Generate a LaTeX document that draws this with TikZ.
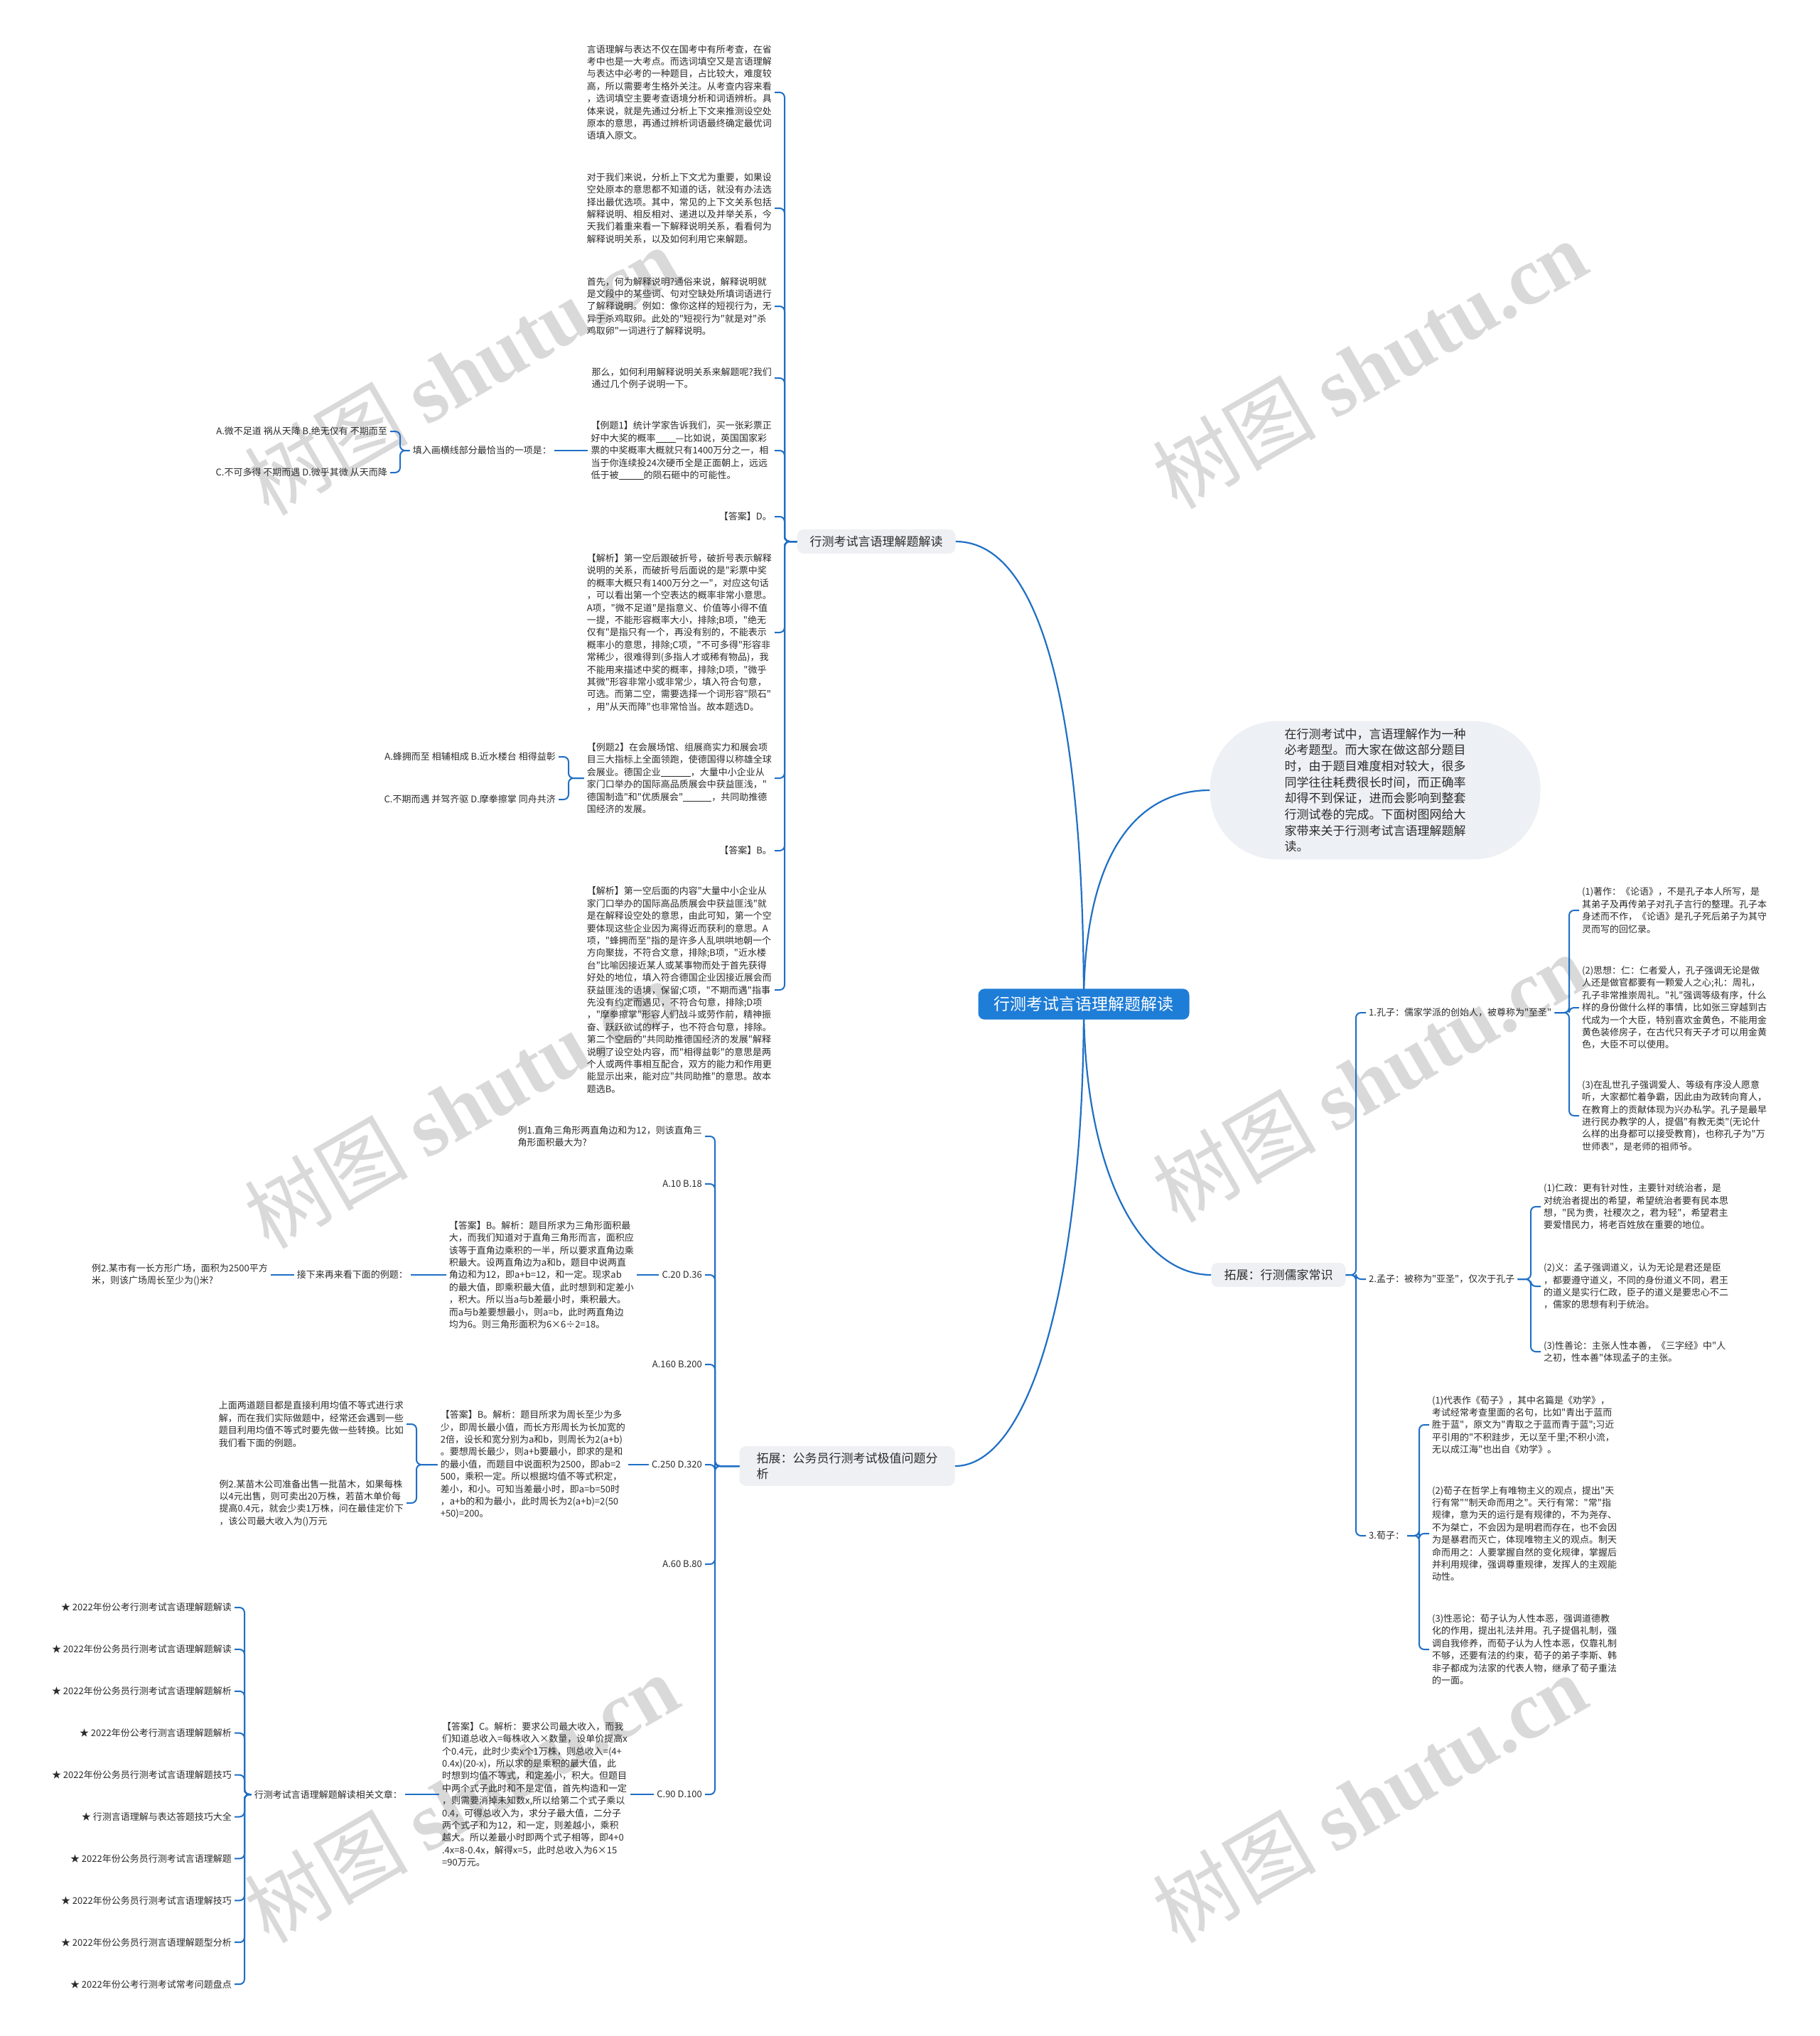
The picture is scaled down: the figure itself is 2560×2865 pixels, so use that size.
\documentclass[tikz,border=0pt]{standalone}
\usepackage{fontspec}
\setmainfont{Noto Sans CJK SC}[Ligatures=TeXOff]
\newfontfamily\wmlatin{Liberation Serif}
\usetikzlibrary{backgrounds}
\definecolor{linkblue}{HTML}{1F6FC5}
\definecolor{rootblue}{HTML}{1E7DD7}
\definecolor{topicgray}{HTML}{EEF0F3}
\definecolor{introgray}{HTML}{EDF0F4}
\definecolor{inkgray}{HTML}{2B2B2B}
\definecolor{markgray}{HTML}{D9D9D9}
\newcommand{\fillgap}[1]{\rule[-1.5pt]{#1}{0.7pt}}

\begin{document}
\begin{tikzpicture}[x=1pt, y=-1pt,
  root/.style={fill=rootblue, text=white, rounded corners=9pt, inner xsep=22pt, inner ysep=11pt, font=\fontsize{23}{28}\selectfont},
  topic/.style={fill=topicgray, text=inkgray, rounded corners=9pt, inner xsep=18pt, inner ysep=9pt, align=left, font=\fontsize{17}{22}\selectfont},
  intro/.style={fill=introgray, text=inkgray, rounded corners=95pt, inner xsep=105pt, inner ysep=10pt, align=left, font=\fontsize{17}{22.7}\selectfont},
  txt/.style={text=inkgray, inner sep=4pt, align=left, font=\fontsize{13}{17.4}\selectfont},
  conn/.style={draw=linkblue, line width=2pt, rounded corners=7pt},
  branch/.style={draw=linkblue, line width=2.2pt},
  wmark/.style={text=markgray, rotate=30, font=\fontsize{115}{115}\selectfont}
]
\useasboundingbox (0,0) rectangle (2560,2865);

\node[root] (root) at (1525,1413) {行测考试言语理解题解读};
\node[topic] (yanyu) at (1233,762) {行测考试言语理解题解读};
\node[intro] (intro) at (1935,1112) {在行测考试中，言语理解作为一种\\必考题型。而大家在做这部分题目\\时，由于题目难度相对较大，很多\\同学往往耗费很长时间，而正确率\\却得不到保证，进而会影响到整套\\行测试卷的完成。下面树图网给大\\家带来关于行测考试言语理解题解\\读。};
\node[topic] (rujia) at (1799,1794) {拓展：行测儒家常识};
\node[topic, inner xsep=24pt] (jizhi) at (1192,2063) {拓展：公务员行测考试极值问题分\\析};

\node[txt, anchor=east] (duan1) at (1090,130) {言语理解与表达不仅在国考中有所考查，在省\\考中也是一大考点。而选词填空又是言语理解\\与表达中必考的一种题目，占比较大，难度较\\高，所以需要考生格外关注。从考查内容来看\\，选词填空主要考查语境分析和词语辨析。具\\体来说，就是先通过分析上下文来推测设空处\\原本的意思，再通过辨析词语最终确定最优词\\语填入原文。};
\node[txt, anchor=east] (duan2) at (1090,293) {对于我们来说，分析上下文尤为重要，如果设\\空处原本的意思都不知道的话，就没有办法选\\择出最优选项。其中，常见的上下文关系包括\\解释说明、相反相对、递进以及并举关系，今\\天我们着重来看一下解释说明关系，看看何为\\解释说明关系，以及如何利用它来解题。};
\node[txt, anchor=east] (duan3) at (1090,431) {首先，何为解释说明?通俗来说，解释说明就\\是文段中的某些词、句对空缺处所填词语进行\\了解释说明。例如：像你这样的短视行为，无\\异于杀鸡取卵。此处的"短视行为"就是对"杀\\鸡取卵"一词进行了解释说明。};
\node[txt, anchor=east] (duan4) at (1090,532) {那么，如何利用解释说明关系来解题呢?我们\\通过几个例子说明一下。};
\node[txt, anchor=east] (li1) at (1090,634) {【例题1】统计学家告诉我们，买一张彩票正\\好中大奖的概率\fillgap{28pt}—比如说，英国国家彩\\票的中奖概率大概就只有1400万分之一，相\\当于你连续投24次硬币全是正面朝上，远远\\低于被\fillgap{35pt}的陨石砸中的可能性。};
\node[txt, anchor=east] (da1) at (1090,727) {【答案】D。};
\node[txt, anchor=east] (xi1) at (1090,890) {【解析】第一空后跟破折号，破折号表示解释\\说明的关系，而破折号后面说的是"彩票中奖\\的概率大概只有1400万分之一"，对应这句话\\，可以看出第一个空表达的概率非常小意思。\\A项，"微不足道"是指意义、价值等小得不值\\一提，不能形容概率大小，排除;B项，"绝无\\仅有"是指只有一个，再没有别的，不能表示\\概率小的意思，排除;C项，"不可多得"形容非\\常稀少，很难得到(多指人才或稀有物品)，我\\不能用来描述中奖的概率，排除;D项，"微乎\\其微"形容非常小或非常少，填入符合句意，\\可选。而第二空，需要选择一个词形容"陨石"\\，用"从天而降"也非常恰当。故本题选D。};
\node[txt, anchor=east] (li2) at (1090,1095) {【例题2】在会展场馆、组展商实力和展会项\\目三大指标上全面领跑，使德国得以称雄全球\\会展业。德国企业\fillgap{42pt}，大量中小企业从\\家门口举办的国际高品质展会中获益匪浅，"\\德国制造"和"优质展会"\fillgap{40pt}，共同助推德\\国经济的发展。};
\node[txt, anchor=east] (da2) at (1090,1197) {【答案】B。};
\node[txt, anchor=east] (xi2) at (1090,1393) {【解析】第一空后面的内容"大量中小企业从\\家门口举办的国际高品质展会中获益匪浅"就\\是在解释设空处的意思，由此可知，第一个空\\要体现这些企业因为离得近而获利的意思。A\\项，"蜂拥而至"指的是许多人乱哄哄地朝一个\\方向聚拢，不符合文意，排除;B项，"近水楼\\台"比喻因接近某人或某事物而处于首先获得\\好处的地位，填入符合德国企业因接近展会而\\获益匪浅的语境，保留;C项，"不期而遇"指事\\先没有约定而遇见，不符合句意，排除;D项\\，"摩拳擦掌"形容人们战斗或劳作前，精神振\\奋、跃跃欲试的样子，也不符合句意，排除。\\第二个空后的"共同助推德国经济的发展"解释\\说明了设空处内容，而"相得益彰"的意思是两\\个人或两件事相互配合，双方的能力和作用更\\能显示出来，能对应"共同助推"的意思。故本\\题选B。};
\node[txt, anchor=east] (tian) at (780,634) {填入画横线部分最恰当的一项是：};
\node[txt, anchor=east] (xuan1a) at (549,607) {A.微不足道 祸从天降 B.绝无仅有 不期而至};
\node[txt, anchor=east] (xuan1c) at (549,665) {C.不可多得 不期而遇 D.微乎其微 从天而降};
\node[txt, anchor=east] (xuan2a) at (786,1065) {A.蜂拥而至 相辅相成 B.近水楼台 相得益彰};
\node[txt, anchor=east] (xuan2c) at (786,1125) {C.不期而遇 并驾齐驱 D.摩拳擦掌 同舟共济};

\node[txt, anchor=west] (kong) at (1922,1425) {1.孔子：儒家学派的创始人，被尊称为"至圣"};
\node[txt, anchor=west] (meng) at (1922,1800) {2.孟子：被称为"亚圣"，仅次于孔子};
\node[txt, anchor=west] (xun) at (1922,2161) {3.荀子：};
\node[txt, anchor=west] (kong1) at (2222,1281) {(1)著作：《论语》，不是孔子本人所写，是\\其弟子及再传弟子对孔子言行的整理。孔子本\\身述而不作，《论语》是孔子死后弟子为其守\\灵而写的回忆录。};
\node[txt, anchor=west] (kong2) at (2222,1418) {(2)思想：仁：仁者爱人，孔子强调无论是做\\人还是做官都要有一颗爱人之心;礼：周礼，\\孔子非常推崇周礼。"礼"强调等级有序，什么\\样的身份做什么样的事情，比如张三穿越到古\\代成为一个大臣，特别喜欢金黄色，不能用金\\黄色装修房子，在古代只有天子才可以用金黄\\色，大臣不可以使用。};
\node[txt, anchor=west] (kong3) at (2222,1570) {(3)在乱世孔子强调爱人、等级有序没人愿意\\听，大家都忙着争霸，因此由为政转向育人，\\在教育上的贡献体现为兴办私学。孔子是最早\\进行民办教学的人，提倡"有教无类"(无论什\\么样的出身都可以接受教育)，也称孔子为"万\\世师表"，是老师的祖师爷。};
\node[txt, anchor=west] (meng1) at (2168,1698) {(1)仁政：更有针对性，主要针对统治者，是\\对统治者提出的希望，希望统治者要有民本思\\想，"民为贵，社稷次之，君为轻"，希望君主\\要爱惜民力，将老百姓放在重要的地位。};
\node[txt, anchor=west] (meng2) at (2168,1810) {(2)义：孟子强调道义，认为无论是君还是臣\\，都要遵守道义，不同的身份道义不同，君王\\的道义是实行仁政，臣子的道义是要忠心不二\\，儒家的思想有利于统治。};
\node[txt, anchor=west] (meng3) at (2168,1902) {(3)性善论：主张人性本善，《三字经》中"人\\之初，性本善"体现孟子的主张。};
\node[txt, anchor=west] (xun1) at (2011,2005) {(1)代表作《荀子》，其中名篇是《劝学》，\\考试经常考查里面的名句，比如"青出于蓝而\\胜于蓝"，原文为"青取之于蓝而青于蓝";习近\\平引用的"不积跬步，无以至千里;不积小流，\\无以成江海"也出自《劝学》。};
\node[txt, anchor=west] (xun2) at (2011,2158) {(2)荀子在哲学上有唯物主义的观点，提出"天\\行有常""制天命而用之"。天行有常："常"指\\规律，意为天的运行是有规律的，不为尧存、\\不为桀亡，不会因为是明君而存在，也不会因\\为是暴君而灭亡，体现唯物主义的观点。制天\\命而用之：人要掌握自然的变化规律，掌握后\\并利用规律，强调尊重规律，发挥人的主观能\\动性。};
\node[txt, anchor=west] (xun3) at (2011,2321) {(3)性恶论：荀子认为人性本恶，强调道德教\\化的作用，提出礼法并用。孔子提倡礼制，强\\调自我修养，而荀子认为人性本恶，仅靠礼制\\不够，还要有法的约束，荀子的弟子李斯、韩\\非子都成为法家的代表人物，继承了荀子重法\\的一面。};

\node[txt, anchor=east] (ti1) at (992,1599) {例1.直角三角形两直角边和为12，则该直角三\\角形面积最大为?};
\node[txt, anchor=east] (opt1) at (992,1666) {A.10 B.18};
\node[txt, anchor=east] (opt2) at (992,1794) {C.20 D.36};
\node[txt, anchor=east] (opt3) at (992,1920) {A.160 B.200};
\node[txt, anchor=east] (opt4) at (992,2061) {C.250 D.320};
\node[txt, anchor=east] (opt5) at (992,2201) {A.60 B.80};
\node[txt, anchor=east] (opt6) at (992,2525) {C.90 D.100};
\node[txt, anchor=east] (jie1) at (896,1794) {【答案】B。解析：题目所求为三角形面积最\\大，而我们知道对于直角三角形而言，面积应\\该等于直角边乘积的一半，所以要求直角边乘\\积最大。设两直角边为a和b，题目中说两直\\角边和为12，即a+b=12，和一定。现求ab\\的最大值，即乘积最大值，此时想到和定差小\\，积大。所以当a与b差最小时，乘积最大。\\而a与b差要想最小，则a=b，此时两直角边\\均为6。则三角形面积为6×6÷2=18。};
\node[txt, anchor=east] (jiexia) at (578,1794) {接下来再来看下面的例题：};
\node[txt, anchor=east] (ti2) at (381,1794) {例2.某市有一长方形广场，面积为2500平方\\米，则该广场周长至少为()米?};
\node[txt, anchor=east] (jie2) at (884,2061) {【答案】B。解析：题目所求为周长至少为多\\少，即周长最小值，而长方形周长为长加宽的\\2倍，设长和宽分别为a和b，则周长为2(a+b)\\。要想周长最少，则a+b要最小，即求的是和\\的最小值，而题目中说面积为2500，即ab=2\\500，乘积一定。所以根据均值不等式积定，\\差小，和小。可知当差最小时，即a=b=50时\\，a+b的和为最小，此时周长为2(a+b)=2(50\\+50)=200。};
\node[txt, anchor=east] (shang) at (572,2004) {上面两道题目都是直接利用均值不等式进行求\\解，而在我们实际做题中，经常还会遇到一些\\题目利用均值不等式时要先做一些转换。比如\\我们看下面的例题。};
\node[txt, anchor=east] (ti3) at (572,2115) {例2.某苗木公司准备出售一批苗木，如果每株\\以4元出售，则可卖出20万株，若苗木单价每\\提高0.4元，就会少卖1万株，问在最佳定价下\\，该公司最大收入为()万元};
\node[txt, anchor=east] (jie3) at (887,2525) {【答案】C。解析：要求公司最大收入，而我\\们知道总收入=每株收入×数量，设单价提高x\\个0.4元，此时少卖x个1万株，则总收入=(4+\\0.4x)(20-x)，所以求的是乘积的最大值，此\\时想到均值不等式，和定差小，积大。但题目\\中两个式子此时和不是定值，首先构造和一定\\，则需要消掉未知数x,所以给第二个式子乘以\\0.4，可得总收入为，求分子最大值，二分子\\两个式子和为12，和一定，则差越小，乘积\\越大。所以差最小时即两个式子相等，即4+0\\.4x=8-0.4x，解得x=5，此时总收入为6×15\\=90万元。};
\node[txt, anchor=east] (xiangguan) at (570,2525) {行测考试言语理解题解读相关文章：};
\foreach \t [count=\i from 0] in {2022年份公考行测考试言语理解题解读, 2022年份公务员行测考试言语理解题解读, 2022年份公务员行测考试言语理解题解析, 2022年份公考行测言语理解题解析, 2022年份公务员行测考试言语理解题技巧, 行测言语理解与表达答题技巧大全, 2022年份公务员行测考试言语理解题, 2022年份公务员行测考试言语理解技巧, 2022年份公务员行测言语理解题型分析, 2022年份公考行测考试常考问题盘点}
  \node[txt, anchor=east] (star\i) at (330,{2262+58.9*\i}) {★ \t};

\foreach \c in {duan1,duan2,duan3,duan4,li1,da1,xi1,li2,da2,xi2}
  \draw[conn] (\c.east) -- ++(14,0) |- (yanyu.west);
\draw[conn] (li1.west) -- (tian.east);
\foreach \c in {xuan1a,xuan1c}
  \draw[conn] (\c.east) -- ++(14,0) |- (tian.west);
\foreach \c in {xuan2a,xuan2c}
  \draw[conn] (\c.east) -- ++(14,0) |- (li2.west);
\foreach \c in {kong,meng,xun}
  \draw[conn] (\c.west) -- ++(-14,0) |- (rujia.east);
\foreach \c in {kong1,kong2,kong3}
  \draw[conn] (\c.west) -- ++(-14,0) |- (kong.east);
\foreach \c in {meng1,meng2,meng3}
  \draw[conn] (\c.west) -- ++(-14,0) |- (meng.east);
\foreach \c in {xun1,xun2,xun3}
  \draw[conn] (\c.west) -- ++(-14,0) |- (xun.east);
\foreach \c in {ti1,opt1,opt2,opt3,opt4,opt5,opt6}
  \draw[conn] (\c.east) -- ++(14,0) |- (jizhi.west);
\draw[conn] (opt2.west) -- (jie1.east);
\draw[conn] (jie1.west) -- (jiexia.east);
\draw[conn] (jiexia.west) -- (ti2.east);
\draw[conn] (opt4.west) -- (jie2.east);
\foreach \c in {shang,ti3}
  \draw[conn] (\c.east) -- ++(14,0) |- (jie2.west);
\draw[conn] (opt6.west) -- (jie3.east);
\draw[conn] (jie3.west) -- (xiangguan.east);
\foreach \i in {0,...,9}
  \draw[conn] (star\i.east) -- ++(14,0) |- (xiangguan.west);

\begin{scope}[on background layer]
\fill[white] (0,0) rectangle (2560,2865);
\foreach \p in {(649,521),(1927,512),(649,1553),(1927,1516),(649,2530),(1927,2530)}
  \node[wmark] at \p {树图 {\wmlatin\bfseries shutu.cn}};
\draw[branch] (root.center) .. controls (1525,1020) and (1470,762) .. (yanyu.east);
\draw[branch] (root.center) .. controls (1525,1200) and (1600,1112) .. (intro.west);
\draw[branch] (root.center) .. controls (1525,1640) and (1600,1794) .. (rujia.west);
\draw[branch] (root.center) .. controls (1525,1800) and (1450,2063) .. (jizhi.east);
\end{scope}
\end{tikzpicture}
\end{document}
